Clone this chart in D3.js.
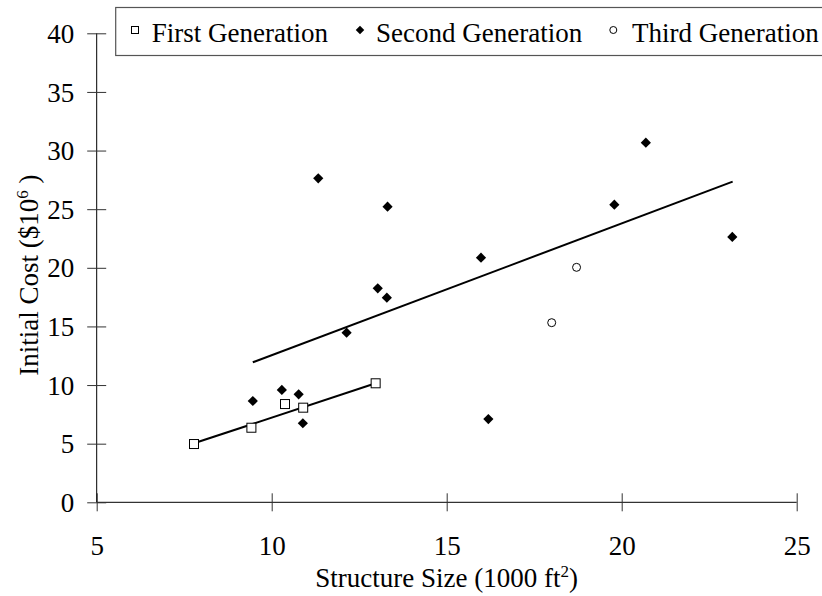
<!DOCTYPE html>
<html>
<head>
<meta charset="utf-8">
<script src="https://cdn.jsdelivr.net/npm/d3@7"></script>
<style>
    body { margin: 0; background: white; }
    svg { display: block; font-family: "Liberation Serif", "Times New Roman", serif; }
</style>
</head>
<body>
<div id="chart"></div>
<script>
// values
var firstX  = [7.78, 9.42, 10.38, 10.90, 12.97];
var firstY  = [4.97, 6.36, 8.38, 8.07, 10.15];

var secondX = [9.46, 10.29, 10.77, 10.89, 11.33, 12.14, 13.03, 13.29, 13.31, 15.98, 16.19, 19.79, 20.69, 23.16];
var secondY = [8.64, 9.58, 9.21, 6.74, 27.63, 14.47, 18.25, 17.45, 25.21, 20.86, 7.10, 25.38, 30.67, 22.63];

var thirdX  = [18.0, 18.71];
var thirdY  = [15.32, 20.04];

// trend lines (end points)
var fitFirstX  = [7.78, 12.97];
var fitFirstY  = [5.03, 10.15];
var fitSecondX = [9.46, 23.17];
var fitSecondY = [11.94, 27.35];

var xTicks = [5, 10, 15, 20, 25];
var yTicks = [0, 5, 10, 15, 20, 25, 30, 35, 40];

var legendNames = ["First Generation", "Second Generation", "Third Generation"];

var width = 822, height = 596;

var svg = d3.select("#chart")
    .append("svg")
    .attr("width", width)
    .attr("height", height);

var x = d3.scaleLinear().domain([5, 25]).range([96.7, 796.7]);
var y = d3.scaleLinear().domain([0, 40]).range([502.3, 33.3]);

function toPoints(xs, ys) {
    return xs.map(function(d, i) { return {x: d, y: ys[i]}; });
}

// x axis, ticks cross the line
var xAxis = svg.append("g")
    .attr("transform", "translate(0," + y(0) + ")")
    .call(d3.axisBottom(x).tickValues(xTicks).tickSizeOuter(0).tickSize(9))
    .attr("font-family", null);
xAxis.select(".domain").attr("stroke", "#000").attr("d", "M" + x(5) + ",0H" + x(25));
xAxis.selectAll(".tick line").attr("y1", -9).attr("y2", 9).attr("stroke", "#333");
xAxis.selectAll(".tick text")
    .attr("y", 53).attr("dy", null)
    .style("font-size", "27px").attr("fill", "#000");

// y axis
var yAxis = svg.append("g")
    .attr("transform", "translate(" + x(5) + ",0)")
    .call(d3.axisLeft(y).tickValues(yTicks).tickSizeOuter(0).tickSize(9.5))
    .attr("font-family", null);
yAxis.select(".domain").attr("stroke", "#000").attr("d", "M0," + y(40) + "V" + y(0));
yAxis.selectAll(".tick line").attr("x1", -9.5).attr("x2", 9.5).attr("stroke", "#333");
yAxis.selectAll(".tick text")
    .attr("x", -22.5).attr("dy", "0.34em")
    .style("font-size", "27px").attr("fill", "#000");

// axis titles
var xTitle = svg.append("text")
    .attr("x", x(15))
    .attr("y", 587)
    .attr("text-anchor", "middle")
    .style("font-size", "27px")
    .text("Structure Size (1000 ft");
xTitle.append("tspan").attr("dy", -10).style("font-size", "17px").text("2");
xTitle.append("tspan").attr("dy", 10).text(")");

var yTitle = svg.append("text")
    .attr("transform", "translate(38,275) rotate(-90)")
    .attr("text-anchor", "middle")
    .style("font-size", "27px")
    .text("Initial Cost ($10");
yTitle.append("tspan").attr("dy", -10).style("font-size", "17px").text("6");
yTitle.append("tspan").attr("dy", 10).text(" )");

// trend lines
var line = d3.line().x(function(d) { return x(d.x); }).y(function(d) { return y(d.y); });

svg.append("path")
    .datum(toPoints(fitFirstX, fitFirstY))
    .attr("d", line)
    .attr("fill", "none").attr("stroke", "#000").attr("stroke-width", 2);

svg.append("path")
    .datum(toPoints(fitSecondX, fitSecondY))
    .attr("d", line)
    .attr("fill", "none").attr("stroke", "#000").attr("stroke-width", 2);

// markers
var diamond = d3.symbol().type(d3.symbolSquare).size(52);

svg.append("g").selectAll("rect")
    .data(toPoints(firstX, firstY))
    .enter().append("rect")
    .attr("x", function(d) { return x(d.x) - 4.5; })
    .attr("y", function(d) { return y(d.y) - 4.5; })
    .attr("width", 9).attr("height", 9)
    .attr("fill", "white").attr("stroke", "#000").attr("stroke-width", 1);

svg.append("g").selectAll("path")
    .data(toPoints(secondX, secondY))
    .enter().append("path")
    .attr("d", diamond)
    .attr("transform", function(d) { return "translate(" + x(d.x) + "," + y(d.y) + ") rotate(45)"; })
    .attr("fill", "#000");

svg.append("g").selectAll("circle")
    .data(toPoints(thirdX, thirdY))
    .enter().append("circle")
    .attr("cx", function(d) { return x(d.x); })
    .attr("cy", function(d) { return y(d.y); })
    .attr("r", 4)
    .attr("fill", "white").attr("stroke", "#000").attr("stroke-width", 1);

// legend box, runs off the right edge
var legend = svg.append("g");
legend.append("rect")
    .attr("x", 115.7).attr("y", 7.5)
    .attr("width", 720).attr("height", 48)
    .attr("fill", "white").attr("stroke", "#555").attr("stroke-width", 1.2);

var legendMarkX = [135, 360, 613.3];
var legendTextX = [151.7, 376, 632];

legend.append("rect")
    .attr("x", legendMarkX[0] - 3.5).attr("y", 30 - 3.5)
    .attr("width", 7).attr("height", 7)
    .attr("fill", "white").attr("stroke", "#000");
legend.append("path")
    .attr("d", d3.symbol().type(d3.symbolSquare).size(36))
    .attr("transform", "translate(" + legendMarkX[1] + ",30) rotate(45)")
    .attr("fill", "#000");
legend.append("circle")
    .attr("cx", legendMarkX[2]).attr("cy", 30).attr("r", 3.5)
    .attr("fill", "white").attr("stroke", "#000");

legend.selectAll("text.lbl")
    .data(legendNames)
    .enter().append("text")
    .attr("class", "lbl")
    .attr("x", function(d, i) { return legendTextX[i]; })
    .attr("y", 42)
    .style("font-size", "27px")
    .text(function(d) { return d; });
</script>
</body>
</html>
